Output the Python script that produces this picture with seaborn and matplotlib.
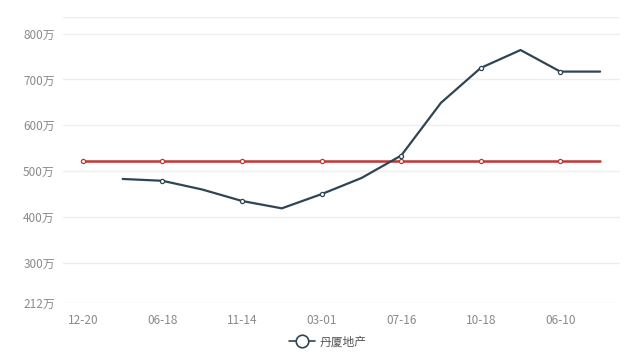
import matplotlib
matplotlib.use("Agg")
import matplotlib.pyplot as plt
import seaborn as sns
import pandas as pd
import numpy as np

# ---- data ----
categories = ["12-20", "", "06-18", "", "11-14", "", "03-01", "", "07-16", "", "10-18", "", "06-10", ""]
price_values = [np.nan, 483, 479, 460, 435, 419, 450, 485, 534, 649, 725, 764, 717, 717]
avg_values = [523] * 14
series_name = "丹厦地产"
y_ticks = [212, 300, 400, 500, 600, 700, 800]
y_tick_labels = ["212万", "300万", "400万", "500万", "600万", "700万", "800万"]
y_max = 836

sns.set_style("white")
plt.rcParams['font.family'] = ['Noto Sans CJK SC', 'DejaVu Sans']

df = pd.DataFrame({
    "idx": np.arange(len(categories)),
    "price": price_values,
    "avg": avg_values,
})

fig = plt.figure(figsize=(6.25, 3.59), dpi=100)
ax = fig.add_axes([63/625, 1 - 303.3/359, (620-63)/625, (303.3-17)/359])

dark = "#2f4554"
red = "#c23531"

sns.lineplot(data=df, x="idx", y="avg", ax=ax, color=red, linewidth=1.8, zorder=3)
sns.lineplot(data=df.dropna(), x="idx", y="price", ax=ax, color=dark, linewidth=1.6, zorder=4)

# markers on every other category
even = df[df["idx"] % 2 == 0]
ax.scatter(even["idx"], even["avg"], s=9, facecolor="white", edgecolor=red, linewidth=0.9, zorder=5)
ev2 = even.dropna()
ax.scatter(ev2["idx"], ev2["price"], s=9, facecolor="white", edgecolor=dark, linewidth=0.9, zorder=6)

ax.set_xlim(-0.5, len(categories) - 0.5)
ax.set_ylim(y_ticks[0], y_max)
ax.set_xticks(range(len(categories)))
ax.set_xticklabels(categories)
ax.set_yticks(y_ticks + [y_max])
ax.set_yticklabels(y_tick_labels + [""])
ax.tick_params(axis="both", length=0, labelsize=8.5, labelcolor="#8a8a8a")
ax.tick_params(axis="x", pad=8)
ax.tick_params(axis="y", pad=6)
ax.grid(axis="y", color="#eeeeee", linewidth=1)
ax.grid(axis="x", visible=False)
for s in ax.spines.values():
    s.set_visible(False)
ax.set_xlabel("")
ax.set_ylabel("")

from matplotlib.lines import Line2D
h = Line2D([0], [0], color=dark, linewidth=1.2, marker="o", markersize=9,
           markerfacecolor="white", markeredgecolor=dark, markeredgewidth=1.2)
fig.legend([h], [series_name], loc="center", bbox_to_anchor=(0.525, 1 - 342/359),
           frameon=False, fontsize=8.5, labelcolor="#555555", handlelength=2.2,
           handletextpad=0.4)

fig.savefig("out.png", dpi=100)
